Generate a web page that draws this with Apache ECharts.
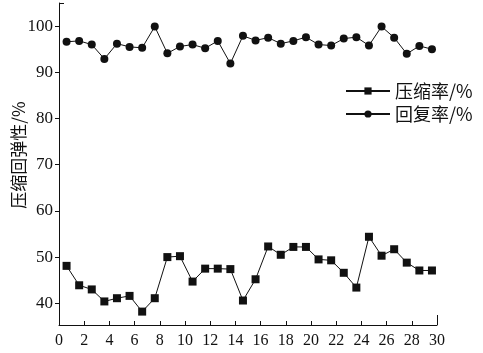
<!DOCTYPE html>
<html>
<head>
<meta charset="utf-8">
<script src="https://cdn.jsdelivr.net/npm/echarts@6/dist/echarts.min.js"></script>
<style>
html,body{margin:0;padding:0;background:#fff;}
#main{width:483px;height:353px;}
</style>
</head>
<body>
<div id="main"></div>
<script>
// Sample positions along x
const samplePos = [0.6,1.6,2.6,3.6,4.6,5.6,6.6,7.6,8.6,9.6,10.6,11.6,12.6,13.6,14.6,15.6,16.6,17.6,18.6,19.6,20.6,21.6,22.6,23.6,24.6,25.6,26.6,27.6,28.6,29.6];
// 压缩率/%
const compression = [48.1,43.9,43.0,40.4,41.1,41.6,38.2,41.1,50.0,50.2,44.7,47.5,47.5,47.4,40.6,45.2,52.3,50.5,52.2,52.2,49.5,49.3,46.6,43.4,54.4,50.3,51.7,48.8,47.1,47.1];
// 回复率/%
const recovery = [96.6,96.8,96.0,92.9,96.2,95.5,95.3,99.9,94.1,95.6,96.0,95.2,96.8,91.9,97.9,96.9,97.5,96.2,96.8,97.6,96.0,95.8,97.3,97.6,95.8,99.9,97.5,94.0,95.7,95.0];
const xTicks = [0,2,4,6,8,10,12,14,16,18,20,22,24,26,28,30];
const yTicks = [40,50,60,70,80,90,100];
const seriesNames = ['压缩率/%','回复率/%'];
const yName = '压缩回弹性/%';

const chart = echarts.init(document.getElementById('main'));
const serif = 'Liberation Serif';
const cjk = 'Noto Sans CJK SC';
chart.setOption({
  animation:false,
  backgroundColor:'#fff',
  grid:{left:59,right:46,top:3,bottom:28,containLabel:false,outerBoundsMode:'none'},
  legend:{
    orient:'vertical', left:340, top:77,
    itemWidth:44, itemHeight:9, itemGap:5,
    textStyle:{fontFamily:cjk,fontSize:18,color:'#111',lineHeight:17},
    data:seriesNames
  },
  xAxis:[{
    type:'value', min:0, max:30, interval:2,
    axisLine:{lineStyle:{color:'#111',width:1}},
    axisTick:{inside:true,length:4,lineStyle:{color:'#111'}},
    axisLabel:{fontFamily:serif,fontSize:16,color:'#111',margin:8},
    splitLine:{show:false}
  },{
    type:'value', min:0, max:30, position:'bottom',
    axisLine:{show:false},
    axisTick:{inside:true,length:10,customValues:[30],lineStyle:{color:'#111'}},
    axisLabel:{show:false},
    splitLine:{show:false}
  }],
  yAxis:[{
    type:'value', min:35.3, max:105,
    name:yName, nameLocation:'middle', nameGap:32, nameRotate:90, nameMoveOverlap:false,
    nameTextStyle:{fontFamily:cjk,fontSize:17,color:'#111',padding:[0,0,0,18]},
    axisLine:{show:true,lineStyle:{color:'#111',width:1}},
    axisTick:{show:true,inside:false,length:4,customValues:yTicks,lineStyle:{color:'#111'}},
    axisLabel:{fontFamily:serif,fontSize:17,color:'#111',margin:6,customValues:yTicks},
    splitLine:{show:false}
  },{
    type:'value', min:35.3, max:105, position:'left',
    axisLine:{show:false},
    axisTick:{show:true,inside:true,length:5,customValues:[105],lineStyle:{color:'#111'}},
    axisLabel:{show:false},
    splitLine:{show:false}
  }],
  series:[{
    name:seriesNames[0], type:'line',
    data:samplePos.map((x,i)=>[x,compression[i]]),
    symbol:'rect', symbolSize:8,
    lineStyle:{color:'#111',width:1},
    itemStyle:{color:'#111'}
  },{
    name:seriesNames[1], type:'line',
    data:samplePos.map((x,i)=>[x,recovery[i]]),
    symbol:'circle', symbolSize:8,
    lineStyle:{color:'#111',width:1},
    itemStyle:{color:'#111'}
  }]
});
</script>
</body>
</html>
